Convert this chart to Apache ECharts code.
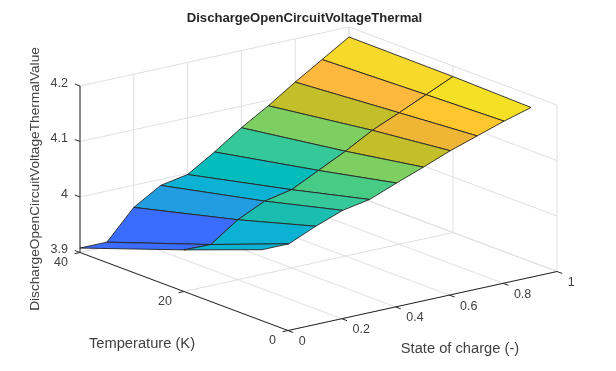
<!DOCTYPE html>
<html>
<head>
<meta charset="utf-8">
<style>
  html, body { margin: 0; padding: 0; background: #fff; }
  #main { width: 616px; height: 371px; }
</style>
<script src="https://cdn.jsdelivr.net/npm/echarts@6/dist/echarts.min.js"></script>
</head>
<body>
<div id="main"></div>
<script>
// grid of the surface
const socGrid = [0, 0.1, 0.2, 0.3, 0.4, 0.5, 0.6, 0.7, 0.8, 0.9, 1];
const tempGrid = [5, 20, 40];
// voltage over state of charge, one list per temperature
const voltageT5 = [4.028, 4.028, 4.049, 4.067, 4.076, 4.095, 4.113, 4.132, 4.148, 4.164, 4.178];
const voltageT20 = [3.975, 3.974, 4.008, 4.031, 4.041, 4.065, 4.089, 4.116, 4.137, 4.159, 4.181];
const voltageT40 = [3.908, 3.908, 3.960, 3.989, 3.998, 4.028, 4.061, 4.090, 4.122, 4.152, 4.182];
const voltages = [voltageT5, voltageT20, voltageT40];
// colour level of each face, one list per temperature band
const levelsT5to20 = [2, 2, 4, 5, 6, 7, 8, 9, 11, 13];
const levelsT20to40 = [0, 0, 1, 2, 3, 5, 7, 8, 10, 12];
const faceLevels = [levelsT5to20, levelsT20to40];
const colormap = ['#3a6cff', '#229de2', '#0cb2d4', '#05bcbc', '#1abdb0', '#35c898', '#48cc85',
  '#7ccf60', '#c3bf2a', '#eeb634', '#fdb83e', '#ffc62d', '#f6d92a', '#f5e026'];
// ticks
const socTicks = [0, 0.2, 0.4, 0.6, 0.8, 1];
const tempTicks = [0, 20, 40];
const voltTicks = [3.9, 4, 4.1, 4.2];

const socRange = [0, 1];
const tempRange = [0, 40];
const voltRange = [3.9, 4.2];

// orthographic view of the box onto the hidden plane axes
function project(soc, temp, volt) {
  const u = soc;
  const v = (40 - temp) / 40;
  const w = (volt - 3.9) / 0.3;
  return [269 * u + 208 * v, 225.5 - 59 * u + 78 * v - 166.5 * w];
}

function lineSeries(segments, color, width, z) {
  return {
    type: 'custom',
    coordinateSystem: 'cartesian2d',
    silent: true,
    z: z,
    data: segments,
    renderItem: function (params, api) {
      const a = api.coord(project(api.value(0), api.value(1), api.value(2)));
      const b = api.coord(project(api.value(3), api.value(4), api.value(5)));
      return {
        type: 'line',
        shape: { x1: a[0], y1: a[1], x2: b[0], y2: b[1] },
        style: { stroke: color, lineWidth: width, fill: null },
      };
    },
  };
}

function labelSeries(points, align, dx, dy) {
  return {
    type: 'custom',
    coordinateSystem: 'cartesian2d',
    silent: true,
    z: 6,
    data: points.map(function (p) { return p.slice(0, 3); }),
    renderItem: function (params, api) {
      const a = api.coord(project(api.value(0), api.value(1), api.value(2)));
      return {
        type: 'text',
        x: a[0] + dx,
        y: a[1] + dy,
        style: {
          text: points[params.dataIndex][3],
          fill: '#404040',
          font: '12.5px "Liberation Sans", Arial, sans-serif',
          textAlign: align,
          textVerticalAlign: 'middle',
        },
      };
    },
  };
}

// walls and floor
const gridLines = [];
socTicks.forEach(function (s) {
  gridLines.push([s, tempRange[0], voltRange[0], s, tempRange[1], voltRange[0]]);
  gridLines.push([s, tempRange[1], voltRange[0], s, tempRange[1], voltRange[1]]);
});
tempTicks.forEach(function (t) {
  gridLines.push([socRange[0], t, voltRange[0], socRange[1], t, voltRange[0]]);
  gridLines.push([socRange[1], t, voltRange[0], socRange[1], t, voltRange[1]]);
});
voltTicks.forEach(function (w) {
  gridLines.push([socRange[0], tempRange[1], w, socRange[1], tempRange[1], w]);
  gridLines.push([socRange[1], tempRange[1], w, socRange[1], tempRange[0], w]);
});

const axisLines = [
  [socRange[0], tempRange[0], voltRange[0], socRange[1], tempRange[0], voltRange[0]],
  [socRange[0], tempRange[0], voltRange[0], socRange[0], tempRange[1], voltRange[0]],
  [socRange[0], tempRange[1], voltRange[0], socRange[0], tempRange[1], voltRange[1]],
];
const tickLines = [];
socTicks.forEach(function (s) { tickLines.push([s, 0, 3.9, s, -1, 3.9]); });
tempTicks.forEach(function (t) { tickLines.push([0, t, 3.9, -0.02, t, 3.9]); });
voltTicks.forEach(function (w) { tickLines.push([0, 40, w, 0, 41, w]); });

// one row per face, back faces first
const faces = [];
for (let b = tempGrid.length - 2; b >= 0; b--) {
  for (let i = socGrid.length - 2; i >= 0; i--) {
    faces.push([socGrid[i], socGrid[i + 1], tempGrid[b], tempGrid[b + 1],
      voltages[b][i], voltages[b][i + 1], voltages[b + 1][i + 1], voltages[b + 1][i],
      faceLevels[b][i]]);
  }
}

const surfaceSeries = {
  type: 'custom',
  coordinateSystem: 'cartesian2d',
  silent: true,
  z: 4,
  data: faces,
  renderItem: function (params, api) {
    const s0 = api.value(0);
    const s1 = api.value(1);
    const t0 = api.value(2);
    const t1 = api.value(3);
    const pts = [
      project(s0, t0, api.value(4)),
      project(s1, t0, api.value(5)),
      project(s1, t1, api.value(6)),
      project(s0, t1, api.value(7)),
    ].map(function (p) { return api.coord(p); });
    return {
      type: 'polygon',
      shape: { points: pts },
      style: { fill: api.visual('color'), stroke: '#262626', lineWidth: 0.9 },
    };
  },
};

const chart = echarts.init(document.getElementById('main'));
chart.setOption({
  animation: false,
  backgroundColor: '#fff',
  title: {
    text: 'DischargeOpenCircuitVoltageThermal',
    left: 299.5,
    top: 7,
    textAlign: 'center',
    textStyle: { color: '#262626', fontSize: 13.1, fontWeight: 'bold', fontFamily: '"Liberation Sans", Arial, sans-serif' },
  },
  grid: { left: 80, top: 27, width: 477, height: 303.5 },
  xAxis: { type: 'value', min: 0, max: 477, show: false },
  yAxis: { type: 'value', min: 0, max: 303.5, inverse: true, show: false },
  visualMap: {
    show: false,
    type: 'continuous',
    seriesIndex: 1,
    dimension: 8,
    min: 0,
    max: colormap.length - 1,
    inRange: { color: colormap },
  },
  graphic: [
    {
      type: 'text', x: 460, y: 349,
      style: { text: 'State of charge (-)', fill: '#404040', font: '14.7px "Liberation Sans", Arial, sans-serif', textAlign: 'center', textVerticalAlign: 'middle' },
    },
    {
      type: 'text', x: 142, y: 344,
      style: { text: 'Temperature (K)', fill: '#404040', font: '14.7px "Liberation Sans", Arial, sans-serif', textAlign: 'center', textVerticalAlign: 'middle' },
    },
    {
      type: 'text', x: 35, y: 179, rotation: Math.PI / 2,
      style: { text: 'DischargeOpenCircuitVoltageThermalValue', fill: '#404040', font: '13.7px "Liberation Sans", Arial, sans-serif', textAlign: 'center', textVerticalAlign: 'middle' },
    },
  ],
  series: [
    lineSeries(gridLines, '#e0e0e0', 1, 1),
    surfaceSeries,
    lineSeries(axisLines, '#262626', 1, 5),
    lineSeries(tickLines, '#262626', 1, 5),
    labelSeries(socTicks.map(function (s) { return [s, 0, 3.9, String(s)]; }), 'left', 10.7, 11),
    labelSeries(tempTicks.map(function (t) { return [0, t, 3.9, String(t)]; }), 'right', -12, 10.5),
    labelSeries(voltTicks.map(function (w) { return [0, 40, w, String(w)]; }), 'right', -12, -2.5),
  ],
});
</script>
</body>
</html>
